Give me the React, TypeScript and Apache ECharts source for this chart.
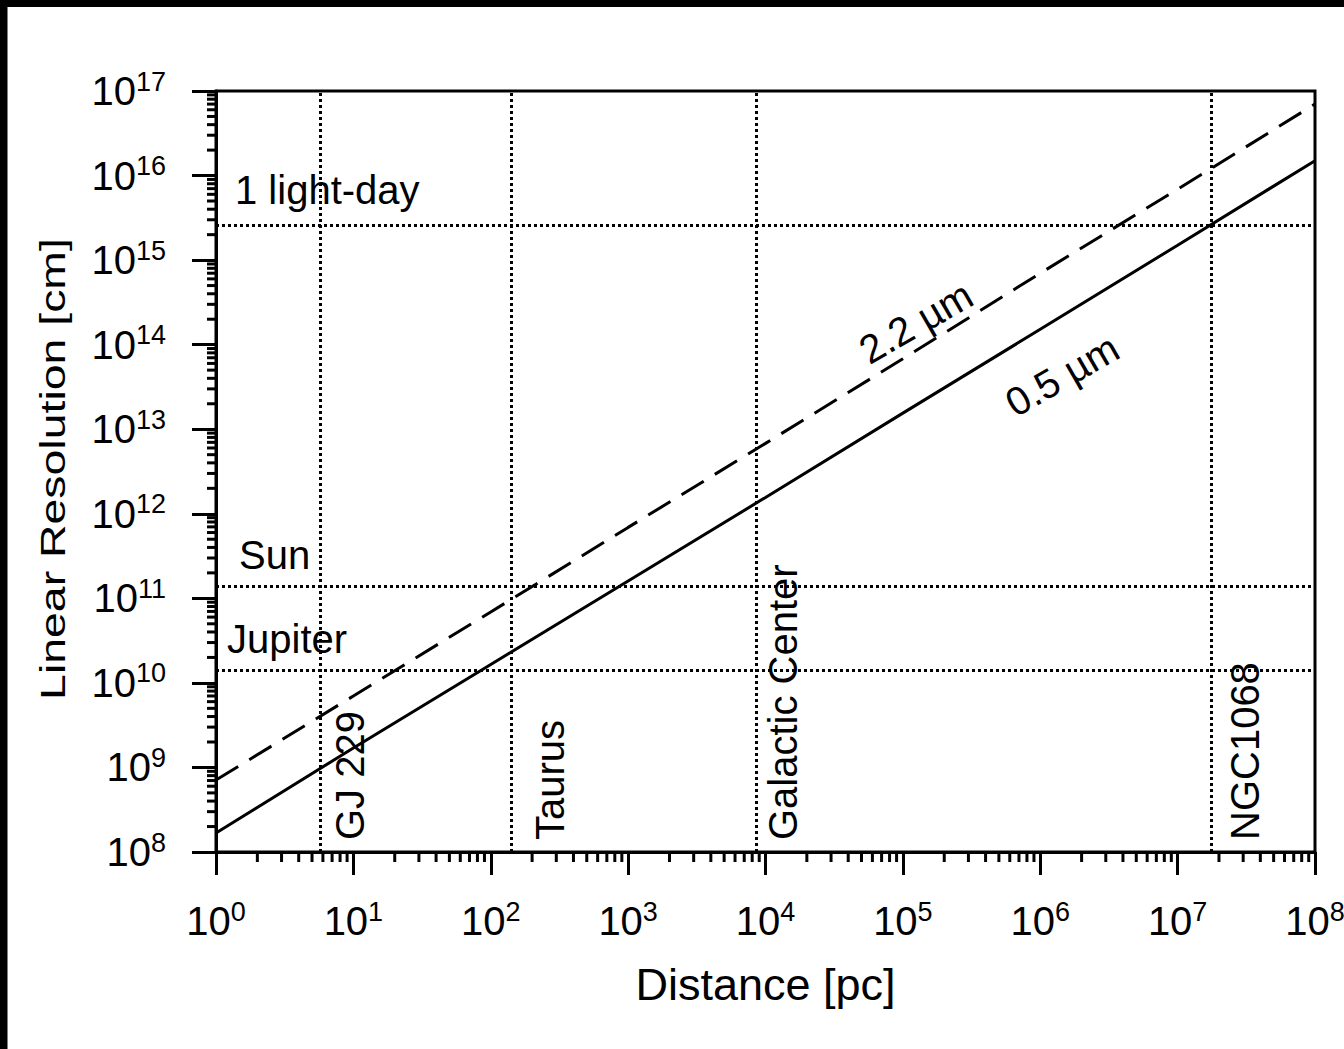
import React, { useEffect, useRef } from "react";
import * as echarts from "echarts";

const FONT = '"Liberation Sans", Arial, Helvetica, sans-serif';

// Distance [pc] sample points (decades)
const distances = [1, 1e1, 1e2, 1e3, 1e4, 1e5, 1e6, 1e7, 1e8];
// Linear resolution [cm] at 0.5 µm (solid)
const res05 = [1.68e8, 1.7e9, 1.65e10, 1.6e11, 1.56e12, 1.55e13, 1.52e14, 1.5e15, 1.5e16];
// Linear resolution [cm] at 2.2 µm (dashed)
const res22 = [7.1e8, 7.0e9, 6.9e10, 6.9e11, 6.8e12, 6.8e13, 7.0e14, 6.9e15, 7.0e16];

// Horizontal reference lines (sizes in cm)
const hRefNames = ["1 light-day", "Sun", "Jupiter"];
const hRefValues = [2.59e15, 1.39e11, 1.43e10];
// Vertical reference lines (distances in pc)
const vRefNames = ["GJ 229", "Taurus", "Galactic Center", "NGC1068"];
const vRefValues = [5.7, 140, 8500, 1.75e7];

// Axis ranges and minor tick multipliers
const X_MIN = 1;
const X_MAX = 1e8;
const Y_MIN = 1e8;
const Y_MAX = 1e17;
const minorMultipliers = [2, 3, 4, 5, 6, 7, 8, 9];
const xDecades = [1, 1e1, 1e2, 1e3, 1e4, 1e5, 1e6, 1e7];
const yDecades = [1e8, 1e9, 1e10, 1e11, 1e12, 1e13, 1e14, 1e15, 1e16];

// Curve labels
const curveLabel22 = { text: "2.2 µm", at: [1.24e5, 1.84e14] };
const curveLabel05 = { text: "0.5 µm", at: [1.44e6, 4.35e13] };

// Annotation label offsets [along, across]
const hLabelDist = [[19, 15], [23, 11], [11, 11]];
const vLabelDist = [[12, 10], [12, 19], [12, 7], [12, 14]];

export default function App() {
  const ref = useRef<HTMLDivElement>(null);

  useEffect(() => {
    document.body.style.margin = "0";
    const chart = echarts.init(ref.current!, null, { renderer: "svg" });

    const xMinor: number[][] = [];
    xDecades.forEach((d) => minorMultipliers.forEach((m) => xMinor.push([d * m, Y_MIN])));
    const yMinor: number[][] = [];
    yDecades.forEach((d) => minorMultipliers.forEach((m) => yMinor.push([X_MIN, d * m])));

    const supLabel = (v: number) => "{b|10}{s|" + Math.round(Math.log10(v)) + "}";
    const rich = {
      b: { fontSize: 40, lineHeight: 46, fontFamily: FONT, color: "#000" },
      s: { fontSize: 27, lineHeight: 27, fontFamily: FONT, color: "#000", verticalAlign: "top" },
    };

    const refLineStyle = { color: "#000", width: 3, type: [3, 3] as any };
    const annLabel = { show: true, fontSize: 40, fontFamily: FONT, color: "#000" };

    const option: any = {
      animation: false,
      backgroundColor: "#fff",
      textStyle: { fontFamily: FONT, color: "#000" },
      grid: {
        left: 216,
        right: 29,
        top: 91,
        bottom: 197,
        show: true,
        borderColor: "#000",
        borderWidth: 3,
        backgroundColor: "transparent",
        containLabel: false,
        outerBoundsMode: "none",
      },
      xAxis: {
        type: "log",
        logBase: 10,
        min: X_MIN,
        max: X_MAX,
        splitNumber: 10,
        name: "Distance [pc]",
        nameLocation: "middle",
        nameGap: 110,
        nameTextStyle: { fontSize: 45, fontFamily: FONT, color: "#000" },
        axisLine: { show: true, lineStyle: { color: "#000", width: 3 } },
        axisTick: { show: true, inside: false, length: 23, lineStyle: { color: "#000", width: 3 } },
        axisLabel: {
          formatter: supLabel,
          rich,
          margin: 46,
          showMinLabel: true,
          showMaxLabel: true,
          hideOverlap: false,
        },
        splitLine: { show: false },
        minorTick: { show: false },
      },
      yAxis: {
        type: "log",
        logBase: 10,
        min: Y_MIN,
        max: Y_MAX,
        splitNumber: 10,
        axisLine: { show: true, lineStyle: { color: "#000", width: 3 } },
        axisTick: { show: true, inside: false, length: 24, lineStyle: { color: "#000", width: 3 } },
        axisLabel: {
          formatter: supLabel,
          rich,
          margin: 50,
          showMinLabel: true,
          showMaxLabel: true,
          hideOverlap: false,
        },
        splitLine: { show: false },
        minorTick: { show: false },
      },
      graphic: [
        { type: "rect", shape: { x: 0, y: 0, width: 1344, height: 7 }, style: { fill: "#000" }, z: 100 },
        { type: "rect", shape: { x: 0, y: 0, width: 7.5, height: 1049 }, style: { fill: "#000" }, z: 100 },
        {
          type: "text",
          x: 52.5,
          y: 469,
          rotation: Math.PI / 2,
          scaleX: 1.29,
          style: {
            text: "Linear Resolution [cm]",
            fontSize: 36,
            fontFamily: FONT,
            fill: "#000",
            align: "center",
            verticalAlign: "middle",
          },
        },
      ],
      series: [
        {
          name: "0.5 µm",
          type: "line",
          data: distances.map((d, i) => [d, res05[i]]),
          symbol: "none",
          lineStyle: { color: "#000", width: 3, type: "solid" },
          z: 3,
          markPoint: {
            silent: true,
            symbol: "circle",
            symbolSize: 0,
            data: [
              {
                coord: curveLabel05.at,
                label: {
                  show: true,
                  position: "inside",
                  formatter: curveLabel05.text,
                  rotate: 30,
                  fontSize: 40,
                  fontFamily: FONT,
                  color: "#000",
                },
              },
            ],
          },
        },
        {
          name: "2.2 µm",
          type: "line",
          data: distances.map((d, i) => [d, res22[i]]),
          symbol: "none",
          lineStyle: { color: "#000", width: 3, type: [26, 13] },
          z: 3,
          markPoint: {
            silent: true,
            symbol: "circle",
            symbolSize: 0,
            data: [
              {
                coord: curveLabel22.at,
                label: {
                  show: true,
                  position: "inside",
                  formatter: curveLabel22.text,
                  rotate: 30,
                  fontSize: 40,
                  fontFamily: FONT,
                  color: "#000",
                },
              },
            ],
          },
        },
        {
          name: "refs",
          type: "line",
          data: [],
          symbol: "none",
          markLine: {
            silent: true,
            symbol: ["none", "none"],
            lineStyle: refLineStyle,
            emphasis: { disabled: true },
            data: [
              ...hRefValues.map((v, i) => ({
                yAxis: v,
                lineStyle: refLineStyle,
                label: {
                  ...annLabel,
                  formatter: hRefNames[i],
                  position: "insideStartTop",
                  distance: hLabelDist[i],
                },
              })),
              ...vRefValues.map((v, i) => ({
                xAxis: v,
                lineStyle: refLineStyle,
                label: {
                  ...annLabel,
                  formatter: vRefNames[i],
                  position: "insideStartBottom",
                  distance: vLabelDist[i],
                },
              })),
            ],
          },
        },
        {
          name: "xMinorTicks",
          type: "custom",
          silent: true,
          clip: false,
          data: xMinor,
          renderItem: (params: any, api: any) => {
            const p = api.coord([api.value(0), api.value(1)]);
            return {
              type: "line",
              shape: { x1: p[0], y1: p[1], x2: p[0], y2: p[1] + 10 },
              style: { stroke: "#000", lineWidth: 3 },
            };
          },
        },
        {
          name: "yMinorTicks",
          type: "custom",
          silent: true,
          clip: false,
          data: yMinor,
          renderItem: (params: any, api: any) => {
            const p = api.coord([api.value(0), api.value(1)]);
            return {
              type: "line",
              shape: { x1: p[0] - 9, y1: p[1], x2: p[0], y2: p[1] },
              style: { stroke: "#000", lineWidth: 3 },
            };
          },
        },
      ],
    };

    chart.setOption(option);
    return () => chart.dispose();
  }, []);

  return (
    <div
      ref={ref}
      style={{ position: "absolute", left: 0, top: 0, width: 1344, height: 1049, background: "#fff" }}
    />
  );
}
